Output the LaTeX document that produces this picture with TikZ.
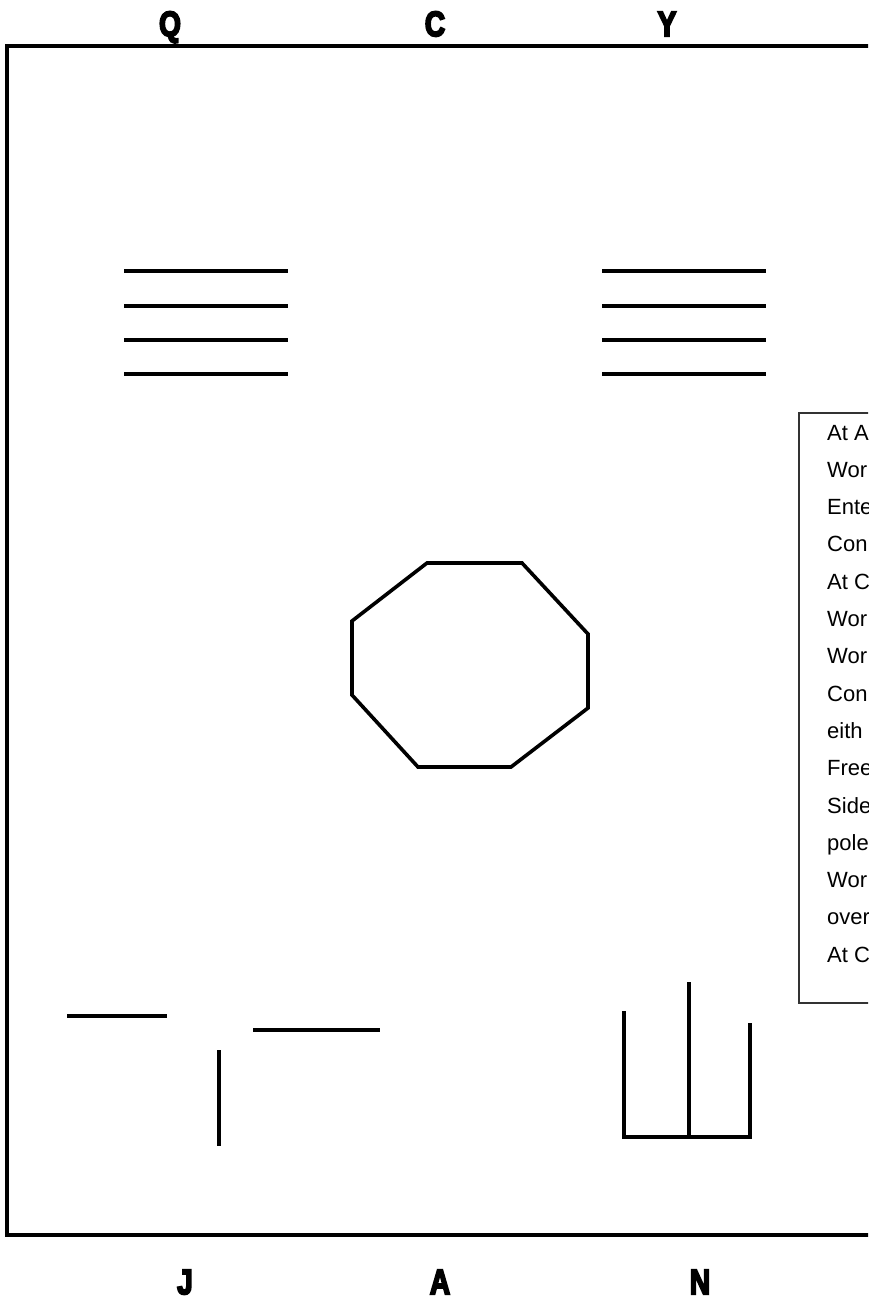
\documentclass[tikz,border=0pt]{standalone}
\usepackage{fontspec}
\setmainfont{Liberation Sans}
\newfontfamily\heavyfont{Liberation Sans Bold}[FakeBold=6]
\begin{document}
\begin{tikzpicture}[x=1pt,y=-1pt,
  thick line/.style={line width=3.6pt, line cap=butt},
  frameline/.style={line width=3.6pt},
  boxline/.style={line width=1.2pt, draw=black!80},
  bigletter/.style={inner sep=0pt, anchor=base, font=\heavyfont\fontsize{35}{35}\selectfont},
  boxtext/.style={inner sep=0pt, anchor=base west, font=\fontsize{22}{22}\selectfont}]
\useasboundingbox (0,0) rectangle (868,1300);
\clip (0,0) rectangle (868,1300);
% outer frame
\draw[frameline] (7,46) rectangle (950,1235);
% letters
\node[bigletter] (q) at (170,36) {\scalebox{0.8}[1]{Q}};
\node[bigletter] (c) at (435,36) {\scalebox{0.8}[1]{C}};
\node[bigletter] (y) at (667,36) {\scalebox{0.8}[1]{Y}};
\node[bigletter] (j) at (185,1294) {\scalebox{0.8}[1]{J}};
\node[bigletter] (a) at (440,1294) {\scalebox{0.8}[1]{A}};
\node[bigletter] (n) at (700,1294) {\scalebox{0.8}[1]{N}};
% horizontal line groups
\foreach \yy in {271,306,340,374} {
  \draw[thick line] (124,\yy) -- (288,\yy);
  \draw[thick line] (602,\yy) -- (766,\yy);
}
% octagon
\draw[thick line, line join=miter] (427,563) -- (522,563) -- (588,634) -- (588,708) -- (511,767) -- (418,767) -- (352,695) -- (352,621) -- cycle;
% bottom-left strokes
\draw[thick line] (67,1016) -- (167,1016);
\draw[thick line] (253,1030) -- (380,1030);
\draw[thick line] (219,1050) -- (219,1146);
% bottom-right comb
\draw[thick line] (624,1011) -- (624,1137);
\draw[thick line] (689,982) -- (689,1137);
\draw[thick line] (750,1023) -- (750,1137);
\draw[thick line] (622.2,1137) -- (751.8,1137);
% text box
\draw[boxline] (799,413) rectangle (1200,1003);
\foreach \t [count=\i from 0] in {At A,Wor,Ente,Con,At C,Wor,Wor,Con,eith,Free,Side,pole,Wor,over,At C} {
  \node[boxtext] (t\i) at (827,{440+\i*37.3}) {\t};
}
\end{tikzpicture}
\end{document}
